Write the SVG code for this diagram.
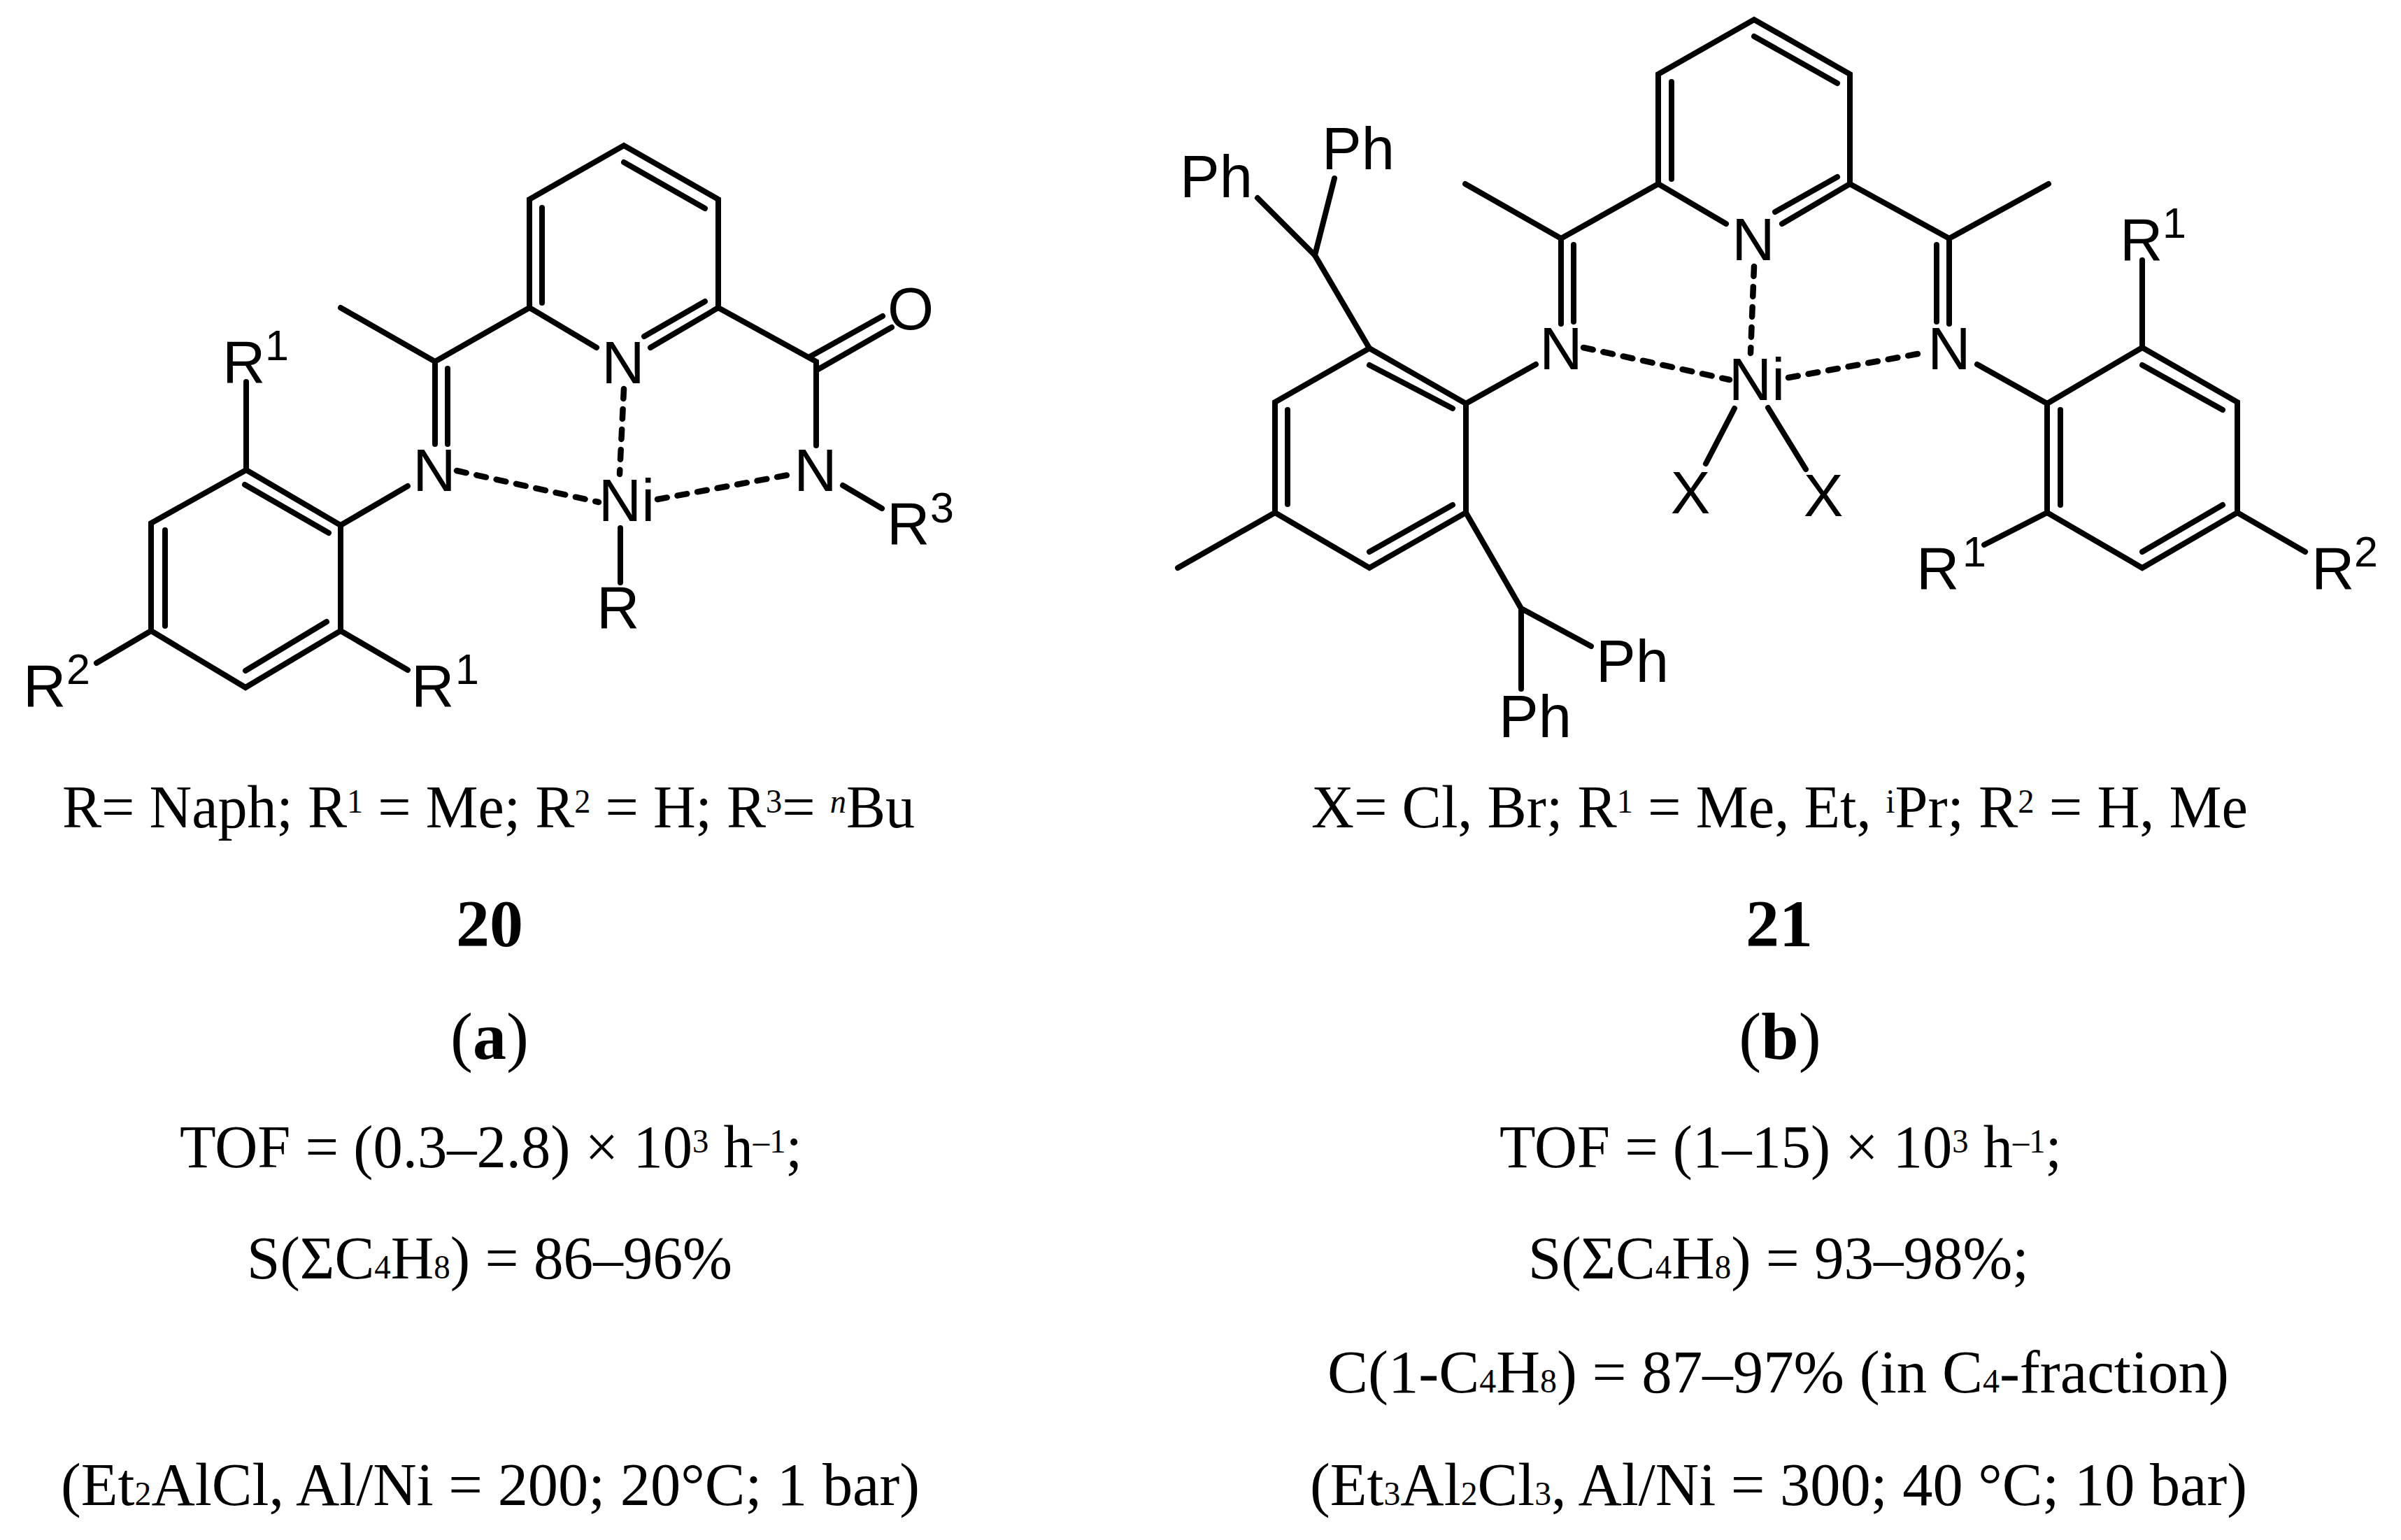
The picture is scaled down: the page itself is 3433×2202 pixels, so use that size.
<svg xmlns="http://www.w3.org/2000/svg" width="3433" height="2202" viewBox="0 0 3433 2202">
<style>
text{fill:#000}
.a{font:85px "Liberation Sans",Arial,sans-serif}
.m{text-anchor:middle}
.s{font-size:61px}
.t{font:87px "Liberation Serif","Times New Roman",serif}
.h{font-size:96px}
.b{font-weight:bold}
.u{font-size:48px}
.i{font-style:italic}
.bond{fill:none;stroke:#000;stroke-width:8;stroke-linecap:round;stroke-linejoin:miter}
.dash{fill:none;stroke:#000;stroke-width:8.5;stroke-linecap:round;stroke-dasharray:14 15}
</style>
<rect width="3433" height="2202" fill="#fff"/>
<g id="connectors">
<g id="bonds-20">
<path class="bond" d="M853 497L757 440V285L892 208L1027 285V440L930 497"/>
<path class="bond" d="M775 433V297M892 232L1008 298M1008 431L921 481"/>
<path class="bond" d="M487 440L622 517L757 440M622 517V635M640 527V635"/>
<path class="bond" d="M1027 440L1167 517V637M1158 510L1262 452M1170 528L1275 468"/>
<path class="bond" d="M1205 694L1261 727M887 755V833"/>
<path class="bond" d="M352 546V672L487 751V902L351 983L216 902V748L352 672"/>
<path class="bond" d="M350 693L470 762M236 758V895M351 959L467 889"/>
<path class="bond" d="M487 751L583 695M487 902L583 958M216 902L138 948"/>
<path class="dash" d="M892 556L886 678M653 673L856 718M940 714L1133 678"/>
</g>
<g id="bonds-21">
<path class="bond" d="M2468 320L2371 263V106L2508 28L2645 106V263L2548 320"/>
<path class="bond" d="M2390 256V117M2508 52L2627 119M2627 253L2538 303"/>
<path class="bond" d="M2095 263L2232 341L2371 263M2232 341V463M2250 350V460"/>
<path class="bond" d="M2929 263L2787 341L2645 263M2787 341V463M2769 350V460"/>
<path class="bond" d="M1958 498L2096 577V733L1958 812L1823 733V575L1958 498"/>
<path class="bond" d="M1958 522L2077 584M1841 586V721M2077 722L1958 789"/>
<path class="bond" d="M2096 577L2196 521M1823 733L1684 812M1958 498L1880 365L1798 283M1880 365L1908 255"/>
<path class="bond" d="M2096 733L2175 870L2275 924M2175 870V985"/>
<path class="bond" d="M3063 372V497L3199 575V733L3063 812L2927 733V577L3063 497"/>
<path class="bond" d="M3063 522L3178 586M2946 586V722M3178 722L3063 789"/>
<path class="bond" d="M2927 577L2827 521M2927 733L2837 779M3199 733L3296 789"/>
<path class="bond" d="M2480 584L2439 663M2528 583L2582 671"/>
<path class="dash" d="M2508 381L2503 505M2264 497L2473 543M2557 540L2753 504"/>
</g>
</g>
<g id="compound-20">
<g id="c20-N-py"><text class="a m" x="891" y="548">N</text></g>
<g id="c20-N-imine"><text class="a m" x="621" y="702">N</text></g>
<g id="c20-N-amide"><text class="a m" x="1166" y="702">N</text></g>
<g id="c20-O"><text class="a m" x="1302" y="471">O</text></g>
<g id="c20-Ni"><text class="a m" x="896" y="745">Ni</text></g>
<g id="c20-R"><text class="a" x="853" y="898">R</text></g>
<g id="c20-R1a"><text class="a" x="318" y="547">R<tspan class="s" x="379" y="515">1</tspan></text></g>
<g id="c20-R1b"><text class="a" x="588" y="1010">R<tspan class="s" x="651" y="978">1</tspan></text></g>
<g id="c20-R2"><text class="a" x="33" y="1010">R<tspan class="s" x="95" y="978">2</tspan></text></g>
<g id="c20-R3"><text class="a" x="1268" y="778">R<tspan class="s" x="1330" y="747">3</tspan></text></g>
</g>
<g id="compound-21">
<g id="c21-N-py"><text class="a m" x="2507" y="372">N</text></g>
<g id="c21-N-l"><text class="a m" x="2232" y="528">N</text></g>
<g id="c21-N-r"><text class="a m" x="2787" y="528">N</text></g>
<g id="c21-Ni"><text class="a m" x="2512" y="572">Ni</text></g>
<g id="c21-X1"><text class="a m" x="2417" y="734">X</text></g>
<g id="c21-X2"><text class="a m" x="2607" y="738">X</text></g>
<g id="c21-Ph1"><text class="a" x="1687" y="282">Ph</text></g>
<g id="c21-Ph2"><text class="a" x="1890" y="242">Ph</text></g>
<g id="c21-Ph3"><text class="a" x="2282" y="975">Ph</text></g>
<g id="c21-Ph4"><text class="a" x="2143" y="1054">Ph</text></g>
<g id="c21-R1a"><text class="a" x="3031" y="372">R<tspan class="s" x="3092" y="340">1</tspan></text></g>
<g id="c21-R1b"><text class="a" x="2740" y="842">R<tspan class="s" x="2806" y="810">1</tspan></text></g>
<g id="c21-R2"><text class="a" x="3305" y="842">R<tspan class="s" x="3366" y="810">2</tspan></text></g>
</g>
<g id="captions-20">
<text class="t" x="89" y="1183" textLength="1219" lengthAdjust="spacingAndGlyphs">R= Naph; R<tspan class="u" dy="-21">1</tspan><tspan dy="21"> = Me; R</tspan><tspan class="u" dy="-21">2</tspan><tspan dy="21"> = H; R</tspan><tspan class="u" dy="-21">3</tspan><tspan dy="21">= </tspan><tspan class="u i" dy="-21">n</tspan><tspan dy="21">Bu</tspan></text>
<text class="t h b m" x="700" y="1353">20</text>
<text class="t h m" x="700" y="1514">(<tspan class="b">a</tspan>)</text>
<text class="t" x="257" y="1669" textLength="890" lengthAdjust="spacingAndGlyphs">TOF = (0.3–2.8) × 10<tspan class="u" dy="-21">3</tspan><tspan dy="21"> h</tspan><tspan class="u" dy="-21">–1</tspan><tspan dy="21">;</tspan></text>
<text class="t" x="353" y="1828" textLength="694" lengthAdjust="spacingAndGlyphs">S(ΣC<tspan class="u">4</tspan>H<tspan class="u">8</tspan>) = 86–96%</text>
<text class="t" x="87" y="2152" textLength="1228" lengthAdjust="spacingAndGlyphs">(Et<tspan class="u">2</tspan>AlCl, Al/Ni = 200; 20°C; 1 bar)</text>
</g>
<g id="captions-21">
<text class="t" x="1875" y="1183" textLength="1339" lengthAdjust="spacingAndGlyphs">X= Cl, Br; R<tspan class="u" dy="-21">1</tspan><tspan dy="21"> = Me, Et, </tspan><tspan class="u" dy="-21">i</tspan><tspan dy="21">Pr; R</tspan><tspan class="u" dy="-21">2</tspan><tspan dy="21"> = H, Me</tspan></text>
<text class="t h b m" x="2544" y="1353">21</text>
<text class="t h m" x="2545" y="1514">(<tspan class="b">b</tspan>)</text>
<text class="t" x="2144" y="1669" textLength="804" lengthAdjust="spacingAndGlyphs">TOF = (1–15) × 10<tspan class="u" dy="-21">3</tspan><tspan dy="21"> h</tspan><tspan class="u" dy="-21">–1</tspan><tspan dy="21">;</tspan></text>
<text class="t" x="2185" y="1828" textLength="716" lengthAdjust="spacingAndGlyphs">S(ΣC<tspan class="u">4</tspan>H<tspan class="u">8</tspan>) = 93–98%;</text>
<text class="t" x="1898" y="1991" textLength="1289" lengthAdjust="spacingAndGlyphs">C(1-C<tspan class="u">4</tspan>H<tspan class="u">8</tspan>) = 87–97% (in C<tspan class="u">4</tspan>-fraction)</text>
<text class="t" x="1873" y="2152" textLength="1340" lengthAdjust="spacingAndGlyphs">(Et<tspan class="u">3</tspan>Al<tspan class="u">2</tspan>Cl<tspan class="u">3</tspan>, Al/Ni = 300; 40 °C; 10 bar)</text>
</g>
</svg>
